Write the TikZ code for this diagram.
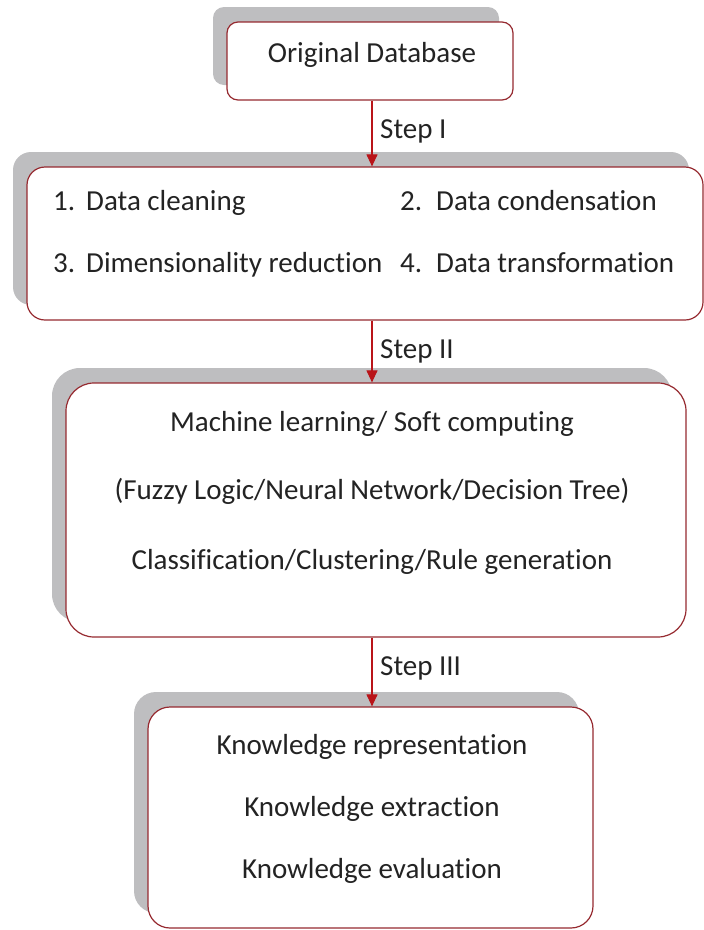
\documentclass[tikz,border=0pt]{standalone}
\usepackage{fontspec}
\setmainfont{Carlito}[Ligatures={NoCommon,NoContextual}]
\usetikzlibrary{arrows.meta,shadows}
\definecolor{boxline}{RGB}{150,42,48}
\definecolor{shade}{RGB}{190,190,192}
\definecolor{flowred}{RGB}{185,20,25}
\definecolor{ink}{RGB}{35,35,35}
\begin{document}
\begin{tikzpicture}[x=1pt,y=-1pt,
  every node/.style={font=\fontsize{29}{34}\selectfont, text=ink},
  stage/.style={draw=boxline, line width=1.2pt, fill=white,
    rounded corners=#1, inner sep=0pt,
    drop shadow={shadow xshift=-14pt, shadow yshift=15pt, opacity=1, fill=shade, draw=none}},
  stage/.default=16pt,
  txt/.style={inner sep=0pt, anchor=base},
  txtl/.style={inner sep=0pt, anchor=base west},
  flow/.style={draw=flowred, line width=1.1pt, -{Triangle[width=11pt,length=12pt,fill=flowred]}},
  steplabel/.style={inner sep=0pt, anchor=base west}]
\useasboundingbox (0,0) rectangle (704,930);

% vertical axis shared by the connectors
\coordinate (axis) at (372,0);

% stage boxes
\node[stage=11pt, minimum width=286pt, minimum height=78pt]  (b1) at (370,61) {};
\node[stage=18pt, minimum width=676pt, minimum height=153pt] (b2) at (365,243.5) {};
\node[stage=28pt, minimum width=620pt, minimum height=254pt] (b3) at (376,510) {};
\node[stage=22pt, minimum width=445pt, minimum height=221pt] (b4) at (370.5,817.5) {};

% box texts
\node[txt] (t1) at (372,62) {Original Database};

\node[txtl] (c1) at (53,210)  {\makebox[33pt][l]{1.}Data cleaning};
\node[txtl] (c2) at (400,210) {\makebox[36pt][l]{2.}Data condensation};
\node[txtl] (c3) at (53,272)  {\makebox[33pt][l]{3.}Dimensionality reduction};
\node[txtl] (c4) at (400,272) {\makebox[36pt][l]{4.}Data transformation};

\node[txt] (m1) at (372,431) {Machine learning/ Soft computing};
\node[txt] (m2) at (372,499) {(Fuzzy Logic/Neural Network/Decision Tree)};
\node[txt] (m3) at (372,569) {Classification/Clustering/Rule generation};

\node[txt] (k1) at (372,754) {Knowledge representation};
\node[txt] (k2) at (372,816) {Knowledge extraction};
\node[txt] (k3) at (372,878) {Knowledge evaluation};

% connectors
\draw[flow] (b1.south -| axis) -- (b2.north -| axis);
\draw[flow] (b2.south -| axis) -- (b3.north -| axis);
\draw[flow] (b3.south -| axis) -- (b4.north -| axis);

% step labels
\node[steplabel] (s1) at (380,138) {Step I};
\node[steplabel] (s2) at (380,358) {Step II};
\node[steplabel] (s3) at (380,675) {Step III};
\end{tikzpicture}
\end{document}
